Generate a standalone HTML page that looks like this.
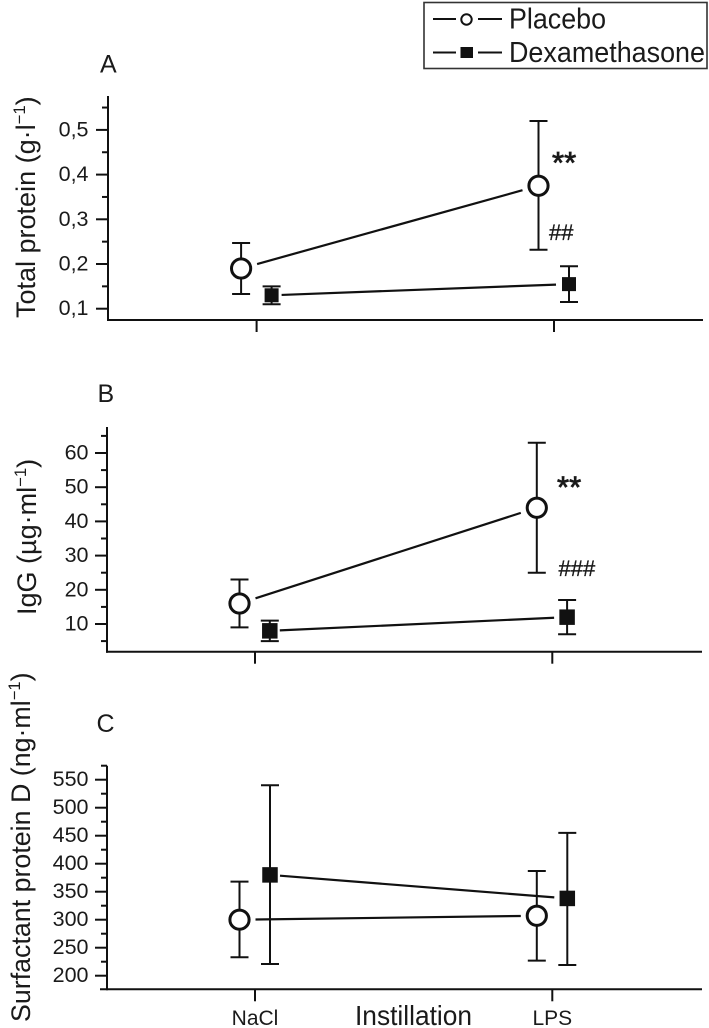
<!DOCTYPE html>
<html>
<head>
<meta charset="utf-8">
<title>Total protein, IgG and surfactant protein D</title>
<style>
html,body{margin:0;padding:0;background:#fff;}
svg{display:block;}
text{font-family:"Liberation Sans",sans-serif;fill:#1a1a1a;}
</style>
</head>
<body>
<svg id="chart" xmlns="http://www.w3.org/2000/svg" width="709" height="1028" viewBox="0 0 709 1028">
  <g>
    <rect x="424" y="2.5" width="283" height="66" fill="#fff" stroke="#333" stroke-width="1.6"/>
    <line x1="433" y1="19" x2="456" y2="19" stroke="#111" stroke-width="2"/>
    <line x1="478" y1="19" x2="502" y2="19" stroke="#111" stroke-width="2"/>
    <circle cx="466.5" cy="19.5" r="5.2" fill="#fff" stroke="#111" stroke-width="2"/>
    <text x="509" y="28.5" font-size="28.5" textLength="97" lengthAdjust="spacingAndGlyphs">Placebo</text>
    <text x="509" y="62" font-size="28.5" textLength="196" lengthAdjust="spacingAndGlyphs">Dexamethasone</text>
    <line x1="433" y1="52.5" x2="456" y2="52.5" stroke="#111" stroke-width="2"/>
    <line x1="478" y1="52.5" x2="502" y2="52.5" stroke="#111" stroke-width="2"/>
    <rect x="460.5" y="47" width="12.5" height="11" fill="#111"/>
  </g>
  <g id="plots"></g>
  <text x="552" y="173" font-size="31" stroke="#1a1a1a" stroke-width="0.8">**</text>
  <text x="549" y="240" font-size="22" stroke="#1a1a1a" stroke-width="0.35">##</text>
  <text x="557" y="497.5" font-size="31" stroke="#1a1a1a" stroke-width="0.8">**</text>
  <text x="558.5" y="576" font-size="22" stroke="#1a1a1a" stroke-width="0.35">###</text>
  <text x="355" y="1025" font-size="27.5" textLength="117" lengthAdjust="spacingAndGlyphs">Instillation</text>
</svg>
<script>
var categories = ['NaCl', 'LPS'];

var ticksA = ['0,1', '0,2', '0,3', '0,4', '0,5'];
var tickValuesA = [0.1, 0.2, 0.3, 0.4, 0.5];
var minorValuesA = [0.15, 0.25, 0.35, 0.45, 0.55];
var placeboA = [0.19, 0.375];
var placeboLowA = [0.133, 0.232];
var placeboHighA = [0.247, 0.52];
var dexA = [0.13, 0.155];
var dexLowA = [0.11, 0.115];
var dexHighA = [0.15, 0.195];

var ticksB = ['10', '20', '30', '40', '50', '60'];
var tickValuesB = [10, 20, 30, 40, 50, 60];
var minorValuesB = [5, 15, 25, 35, 45, 55, 65];
var placeboB = [16, 44];
var placeboLowB = [9, 25];
var placeboHighB = [23, 63];
var dexB = [8, 12];
var dexLowB = [5, 7];
var dexHighB = [11, 17];

var ticksC = ['200', '250', '300', '350', '400', '450', '500', '550'];
var tickValuesC = [200, 250, 300, 350, 400, 450, 500, 550];
var minorValuesC = [225, 275, 325, 375, 425, 475, 525, 575];
var placeboC = [300, 307];
var placeboLowC = [233, 227];
var placeboHighC = [368, 387];
var dexC = [380, 338];
var dexLowC = [221, 219];
var dexHighC = [540, 455];

var NS = 'http://www.w3.org/2000/svg';
var plots = document.getElementById('plots');

function make(parent, tag, attrs, text) {
  var el = document.createElementNS(NS, tag);
  for (var k in attrs) { el.setAttribute(k, attrs[k]); }
  if (text !== undefined) { el.textContent = text; }
  parent.appendChild(el);
  return el;
}

function seg(parent, name, x1, y1, x2, y2, w) {
  var el = make(parent, 'line', {x1: x1, y1: y1, x2: x2, y2: y2, stroke: '#111', 'stroke-width': w});
  
  
  return el;
}

function drawPanel(p) {
  var g = make(plots, 'g', {});
  
  

  var label = make(g, 'text', {x: p.labelX, y: p.labelY, 'font-size': 25}, p.id.toUpperCase());
  
  

  seg(g, 'y-axis-' + p.id, p.axisX, p.axisTop, p.axisX, p.axisBottom + 1, 2);
  seg(g, 'x-axis-' + p.id, p.axisStart, p.axisBottom, p.axisEnd, p.axisBottom, 2);

  p.tickValues.forEach(function (v, i) {
    seg(g, 'y-tick-' + p.id, p.axisX - 12, p.y(v), p.axisX, p.y(v), 2);
    var t = make(g, 'text', {x: 88.5, y: p.y(v) + 6.5, 'font-size': 21.5, 'text-anchor': 'end'}, p.ticks[i]);
    
    
  });
  p.minorValues.forEach(function (v) {
    seg(g, 'y-minor-tick-' + p.id, p.axisX - 6, p.y(v), p.axisX, p.y(v), 2);
  });
  categories.forEach(function (c, i) {
    seg(g, 'x-tick-' + p.id, p.x(i, 0), p.axisBottom, p.x(i, 0), p.axisBottom + 12, 2);
  });

  var title = make(g, 'text', {
    transform: 'translate(' + p.titleX + ',' + p.titleY + ') rotate(-90)',
    'font-size': p.titleSize
  });
  
  
  make(title, 'tspan', {}, p.title);
  make(title, 'tspan', {dy: -10, 'font-size': p.titleSize * 0.62}, '\u22121');
  make(title, 'tspan', {dy: 10}, ')');

  // connecting lines stop short of the markers
  drawLine(g, p, 'placebo-line-' + p.id, p.placebo, p.offP, 16, 16);
  drawLine(g, p, 'dexamethasone-line-' + p.id, p.dex, p.offD, 10, 13);

  // dexamethasone series
  p.dex.forEach(function (v, i) {
    var x = p.x(i, p.offD);
    errorBar(g, p, 'dexamethasone-error-' + p.id, x, p.dexLow[i], p.dexHigh[i]);
    var m = make(g, 'rect', {x: x - p.sq / 2, y: p.y(v) - p.sq / 2, width: p.sq, height: p.sq, fill: '#111'});
    
    
  });

  // placebo series
  p.placebo.forEach(function (v, i) {
    var x = p.x(i, p.offP);
    errorBar(g, p, 'placebo-error-' + p.id, x, p.placeboLow[i], p.placeboHigh[i]);
    var m = make(g, 'circle', {cx: x, cy: p.y(v), r: 9.6, fill: '#fff', stroke: '#111', 'stroke-width': 3});
    
    
  });

  if (p.showCategories) {
    categories.forEach(function (c, i) {
      var t = make(g, 'text', {x: p.x(i, 0), y: 1025, 'font-size': 21, 'text-anchor': 'middle'}, c);
      
      
    });
  }
}

function drawLine(g, p, name, vals, off, gapStart, gapEnd) {
  var x0 = p.x(0, off), x1 = p.x(1, off), y0 = p.y(vals[0]), y1 = p.y(vals[1]);
  var sx = x0 + gapStart, ex = x1 - gapEnd;
  var k = (y1 - y0) / (x1 - x0);
  seg(g, name, sx, y0 + k * gapStart, ex, y1 - k * gapEnd, 2.2);
}

function errorBar(g, p, name, x, lo, hi) {
  seg(g, name, x, p.y(lo), x, p.y(hi), 2);
  seg(g, name + '-cap-low', x - 9, p.y(lo), x + 9, p.y(lo), 2);
  seg(g, name + '-cap-high', x - 9, p.y(hi), x + 9, p.y(hi), 2);
}

drawPanel({
  id: 'a', labelX: 100, labelY: 72.5,
  axisX: 108, axisTop: 96, axisBottom: 320, axisStart: 107, axisEnd: 703,
  y: function (v) { return 308.7 - (v - 0.1) * 447; },
  x: function (i, off) { return 256.6 + i * 297.4 + off; },
  offP: -15.5, offD: 15, sq: 14,
  ticks: ticksA, tickValues: tickValuesA, minorValues: minorValuesA,
  placebo: placeboA, placeboLow: placeboLowA, placeboHigh: placeboHighA,
  dex: dexA, dexLow: dexLowA, dexHigh: dexHighA,
  title: 'Total protein (g\u00b7l', titleX: 35, titleY: 318, titleSize: 27
});
drawPanel({
  id: 'b', labelX: 97.5, labelY: 402,
  axisX: 107, axisTop: 427, axisBottom: 651.7, axisStart: 106, axisEnd: 702,
  y: function (v) { return 624 - (v - 10) * 3.42; },
  x: function (i, off) { return 255 + i * 297.3 + off; },
  offP: -15.5, offD: 14.8, sq: 15.5,
  ticks: ticksB, tickValues: tickValuesB, minorValues: minorValuesB,
  placebo: placeboB, placeboLow: placeboLowB, placeboHigh: placeboHighB,
  dex: dexB, dexLow: dexLowB, dexHigh: dexHighB,
  title: 'IgG (\u00b5g\u00b7ml', titleX: 36, titleY: 615, titleSize: 27
});
drawPanel({
  id: 'c', labelX: 96.5, labelY: 732,
  axisX: 107, axisTop: 765.7, axisBottom: 989.3, axisStart: 100, axisEnd: 702,
  y: function (v) { return 975.7 - (v - 200) * 0.56; },
  x: function (i, off) { return 255 + i * 297.3 + off; },
  offP: -15.5, offD: 15, sq: 15.5,
  ticks: ticksC, tickValues: tickValuesC, minorValues: minorValuesC,
  placebo: placeboC, placeboLow: placeboLowC, placeboHigh: placeboHighC,
  dex: dexC, dexLow: dexLowC, dexHigh: dexHighC,
  title: 'Surfactant protein D (ng\u00b7ml', titleX: 30, titleY: 1022, titleSize: 26.8,
  showCategories: true
});
</script>
</body>
</html>
